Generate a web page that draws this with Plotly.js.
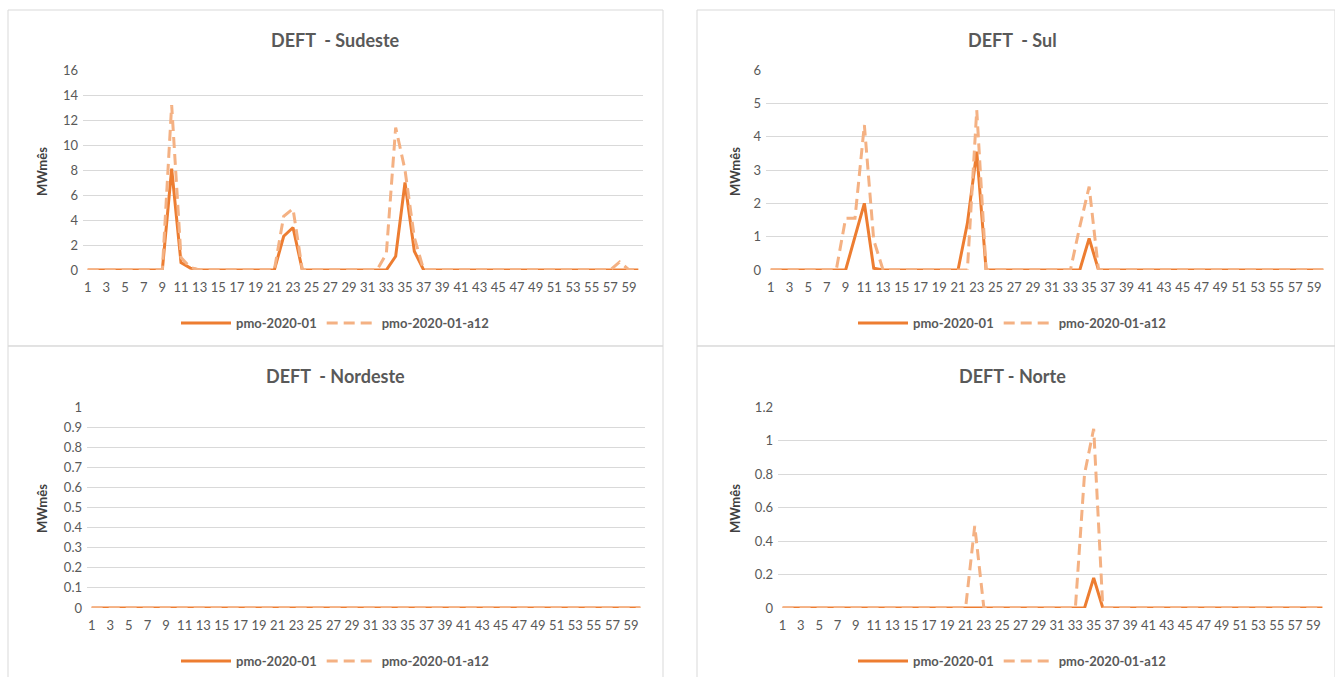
<!DOCTYPE html>
<html>
<head>
<meta charset="utf-8">
<script src="https://cdn.plot.ly/plotly-3.0.1.min.js"></script>
<style>
  html, body { margin: 0; padding: 0; background: #ffffff; }
  #chart { width: 1335px; height: 677px; }
</style>
</head>
<body>
<div id="chart"></div>
<script>
// ---- data ----
const periods = [1,2,3,4,5,6,7,8,9,10,11,12,13,14,15,16,17,18,19,20,21,22,23,24,25,26,27,28,29,30,
                 31,32,33,34,35,36,37,38,39,40,41,42,43,44,45,46,47,48,49,50,51,52,53,54,55,56,57,58,59,60];
const tickLabels = [1,3,5,7,9,11,13,15,17,19,21,23,25,27,29,31,33,35,37,39,41,43,45,47,49,51,53,55,57,59];
const seriesNames = ["pmo-2020-01", "pmo-2020-01-a12"];

// Sudeste
const sudestePmo = [0,0,0,0,0,0,0,0,0,8.1,0.6,0.15,0,0,0,0,0,0,0,0,0,2.7,3.4,0,0,0,0,0,0,0,
                    0,0,0,1.1,7.0,1.5,0,0,0,0,0,0,0,0,0,0,0,0,0,0,0,0,0,0,0,0,0,0,0,0];
const sudesteA12 = [0,0,0,0,0,0,0,0,0,13.2,1.0,0.2,0,0,0,0,0,0,0,0,0,4.3,4.9,0,0,0,0,0,0,0,
                    0,0,1.3,11.4,8.0,2.6,0,0,0,0,0,0,0,0,0,0,0,0,0,0,0,0,0,0,0,0,0,0.65,0,0];
// Sul
const sulPmo = [0,0,0,0,0,0,0,0,0,1.0,2.0,0.05,0,0,0,0,0,0,0,0,0,1.4,3.55,0,0,0,0,0,0,0,
                0,0,0,0,0.95,0,0,0,0,0,0,0,0,0,0,0,0,0,0,0,0,0,0,0,0,0,0,0,0,0];
const sulA12 = [0,0,0,0,0,0,0,0,1.55,1.55,4.35,0.9,0,0,0,0,0,0,0,0,0,0,4.8,0,0,0,0,0,0,0,
                0,0,0,1.3,2.5,0,0,0,0,0,0,0,0,0,0,0,0,0,0,0,0,0,0,0,0,0,0,0,0,0];
// Nordeste
const nordestePmo = [0,0,0,0,0,0,0,0,0,0,0,0,0,0,0,0,0,0,0,0,0,0,0,0,0,0,0,0,0,0,
                     0,0,0,0,0,0,0,0,0,0,0,0,0,0,0,0,0,0,0,0,0,0,0,0,0,0,0,0,0,0];
const nordesteA12 = [0,0,0,0,0,0,0,0,0,0,0,0,0,0,0,0,0,0,0,0,0,0,0,0,0,0,0,0,0,0,
                     0,0,0,0,0,0,0,0,0,0,0,0,0,0,0,0,0,0,0,0,0,0,0,0,0,0,0,0,0,0];
// Norte
const nortePmo = [0,0,0,0,0,0,0,0,0,0,0,0,0,0,0,0,0,0,0,0,0,0,0,0,0,0,0,0,0,0,
                  0,0,0,0,0.18,0,0,0,0,0,0,0,0,0,0,0,0,0,0,0,0,0,0,0,0,0,0,0,0,0];
const norteA12 = [0,0,0,0,0,0,0,0,0,0,0,0,0,0,0,0,0,0,0,0,0,0.49,0,0,0,0,0,0,0,0,
                  0,0,0,0.8,1.07,0,0,0,0,0,0,0,0,0,0,0,0,0,0,0,0,0,0,0,0,0,0,0,0,0];

const panelTitles = ["DEFT \u00a0- Sudeste", "DEFT \u00a0- Sul", "DEFT \u00a0- Nordeste", "DEFT - Norte"];
const yTitle = "MWmês";

// ---- styling ----
const W = 1335, H = 677;
const FONT = "Lato, 'Open Sans', sans-serif";
const TXT = "#595959";
const GRID = "#d9d9d9";
const C1 = "#ED7D31";
const C2 = "#F4B183";

const px = v => v / W;
const py = v => 1 - v / H;

// panels: plot-area pixel boxes
const panels = [
  {xa: "x",  ya: "y",  x0: 83,  x1: 643,  yTop: 70,  yBot: 270, range: [0, 16], dtick: 2,   pmo: sudestePmo,  a12: sudesteA12,  legend: "legend",  title: panelTitles[0], tx: 335,  ty: 40,  ytx: 42,  yty: 172, ly: 323, box: [8, 10, 663, 346]},
  {xa: "x2", ya: "y2", x0: 766, x1: 1328, yTop: 70,  yBot: 270, range: [0, 6],  dtick: 1,   pmo: sulPmo,      a12: sulA12,      legend: "legend2", title: panelTitles[1], tx: 1012, ty: 40,  ytx: 735, yty: 172, ly: 323, box: [697, 10, 1335, 346]},
  {xa: "x3", ya: "y3", x0: 87,  x1: 645,  yTop: 407, yBot: 608, range: [0, 1],  dtick: 0.1, pmo: nordestePmo, a12: nordesteA12, legend: "legend3", title: panelTitles[2], tx: 335,  ty: 376, ytx: 42,  yty: 509, ly: 661, box: [8, 346, 663, 690]},
  {xa: "x4", ya: "y4", x0: 778, x1: 1327, yTop: 407, yBot: 608, range: [0, 1.2],dtick: 0.2, pmo: nortePmo,    a12: norteA12,    legend: "legend4", title: panelTitles[3], tx: 1012, ty: 376, ytx: 735, yty: 509, ly: 661, box: [697, 346, 1335, 690]}
];

const data = [];
const layout = {
  width: W, height: H,
  margin: {l: 0, r: 0, t: 0, b: 0},
  paper_bgcolor: "#ffffff",
  plot_bgcolor: "#ffffff",
  font: {family: FONT, color: TXT, size: 13},
  hovermode: false,
  annotations: [],
  shapes: []
};

panels.forEach((p, i) => {
  const n = i === 0 ? "" : String(i + 1);
  data.push({
    type: "scatter", mode: "lines", x: periods, y: p.pmo, name: seriesNames[0],
    xaxis: p.xa, yaxis: p.ya, legend: p.legend, cliponaxis: false,
    line: {color: C1, width: 3, shape: "linear"}
  });
  data.push({
    type: "scatter", mode: "lines", x: periods, y: p.a12, name: seriesNames[1],
    xaxis: p.xa, yaxis: p.ya, legend: p.legend, cliponaxis: false,
    line: {color: C2, width: 3, dash: "11px,6px", shape: "linear"}
  });

  layout["xaxis" + n] = {
    domain: [px(p.x0), px(p.x1)], anchor: p.ya,
    range: [0.5, 60.5], tickmode: "array", tickvals: tickLabels, ticktext: tickLabels.map(String),
    showgrid: false, zeroline: false, showline: false, ticks: "", ticklabelstandoff: 8,
    tickfont: {family: FONT, size: 13, color: TXT}, fixedrange: true
  };
  layout["yaxis" + n] = {
    domain: [py(p.yBot), py(p.yTop)], anchor: p.xa,
    range: p.range, dtick: p.dtick, tick0: 0,
    showgrid: true, gridcolor: GRID, gridwidth: 1, zeroline: false, showline: false, ticks: "",
    ticklabelstandoff: 4,
    tickfont: {family: FONT, size: 13, color: TXT}, fixedrange: true
  };

  layout[p.legend] = {
    orientation: "h", x: px(p.tx), xanchor: "center", y: py(p.ly), yanchor: "middle",
    font: {family: FONT, size: 13, color: TXT, weight: "bold"},
    bgcolor: "rgba(0,0,0,0)", itemwidth: 50, tracegroupgap: 0
  };

  layout.annotations.push({
    text: p.title, xref: "paper", yref: "paper", x: px(p.tx), y: py(p.ty),
    xanchor: "center", yanchor: "middle", showarrow: false,
    font: {family: FONT, size: 18, color: TXT, weight: "bold"}
  });
  layout.annotations.push({
    text: yTitle, xref: "paper", yref: "paper", x: px(p.ytx), y: py(p.yty),
    xanchor: "center", yanchor: "middle", showarrow: false, textangle: -90,
    font: {family: FONT, size: 13, color: "#404040", weight: "bold"}
  });
  layout.shapes.push({
    type: "rect", xref: "paper", yref: "paper",
    x0: px(p.box[0]), x1: px(p.box[2]), y0: py(p.box[3]), y1: py(p.box[1]),
    line: {color: GRID, width: 1}, fillcolor: "rgba(0,0,0,0)", layer: "below"
  });
});

Plotly.newPlot("chart", data, layout, {displayModeBar: false, staticPlot: true});
</script>
</body>
</html>
